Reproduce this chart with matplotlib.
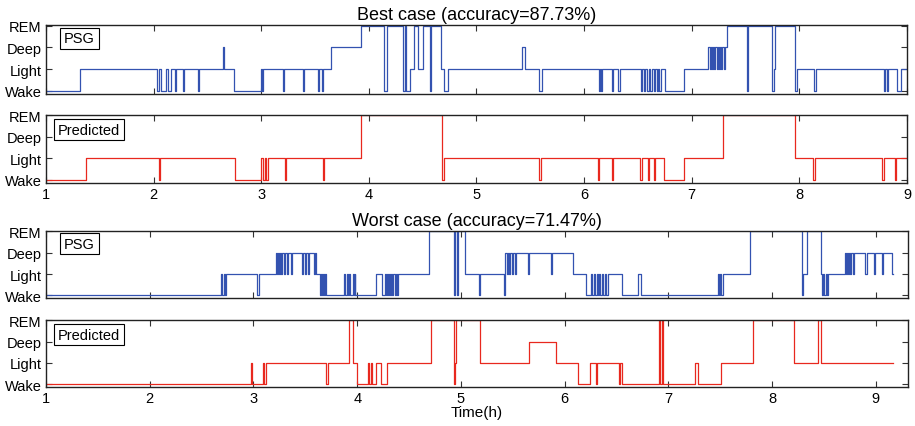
import numpy as np
import matplotlib
matplotlib.use("Agg")
import matplotlib.pyplot as plt

plt.rcParams['font.family'] = ['Liberation Sans', 'DejaVu Sans']

stage_labels = ['Wake', 'Light', 'Deep', 'REM']
W, L, D, R = 0, 1, 2, 3

# ---------------- Best case ----------------
best_title = "Best case (accuracy=87.73%)"
best_end = 9.0
best_psg_t = [1.00, 1.32, 2.035, 2.054, 2.067, 2.116, 2.138, 2.16, 2.20, 2.21, 2.27, 2.28, 2.41, 2.42,
              2.64, 2.653, 2.75, 2.995, 3.005, 3.015, 3.20, 3.21, 3.39, 3.40, 3.525, 3.535, 3.56, 3.57,
              3.65, 3.93, 4.145, 4.165, 4.318, 4.333, 4.349, 4.38, 4.423, 4.457, 4.504, 4.566, 4.579,
              4.672, 4.696, 4.737, 5.425, 5.455, 5.58, 5.605, 6.135, 6.15, 6.16, 6.17, 6.256, 6.27,
              6.318, 6.33, 6.525, 6.54, 6.555, 6.57, 6.585, 6.60, 6.615, 6.63, 6.645, 6.66, 6.675, 6.69,
              6.70, 6.715, 6.755, 6.925, 7.155, 7.165, 7.175, 7.185, 7.195, 7.21, 7.22, 7.23, 7.24,
              7.255, 7.265, 7.275, 7.285, 7.30, 7.31, 7.325, 7.51, 7.52, 7.75, 7.765, 7.775, 7.958,
              7.975, 8.138, 8.15, 8.785, 8.80, 8.81, 8.825, 8.905, 8.94]
best_psg_s = [W, L, W, L, W, L, W, L, W, L, W, L, W, L,
              D, L, W, L, W, L, W, L, W, L, W, L, W, L,
              D, R, W, R, W, R, W, L, R, L, R, W, R,
              L, W, L, D, L, W, L, W, L, W, L, W, L,
              W, L, W, L, W, L, W, L, W, L, W, L, W, L,
              W, L, W, L, D, L, D, L, D, L, D, L, D,
              L, D, L, D, L, D, R, W, R, W, L, R, W,
              L, W, L, W, L, W, L, W, L]

best_pred_t = [1.00, 1.37, 2.05, 2.06, 2.76, 2.995, 3.02, 3.035, 3.045, 3.06, 3.22, 3.23, 3.57, 3.58,
               3.93, 4.68, 4.70, 5.58, 5.595, 6.13, 6.14, 6.255, 6.265, 6.52, 6.535, 6.59, 6.60,
               6.65, 6.66, 6.74, 6.93, 7.29, 7.96, 8.13, 8.145, 8.77, 8.785, 8.885, 8.895]
best_pred_s = [W, L, W, L, W, L, W, L, W, L, W, L, W, L,
               R, W, L, W, L, W, L, W, L, W, L, W, L,
               W, L, W, L, R, L, W, L, W, L, W, L]

# ---------------- Worst case ----------------
worst_title = "Worst case (accuracy=71.47%)"
worst_end = 9.165
worst_psg_t = [1.00, 2.685, 2.70, 2.712, 2.725, 2.74, 3.03, 3.057,
               3.215, 3.225, 3.235, 3.245, 3.255, 3.265, 3.275, 3.29, 3.30, 3.325, 3.335, 3.36, 3.37,
               3.465, 3.475, 3.50, 3.51, 3.53, 3.54, 3.58, 3.59, 3.60,
               3.64, 3.65, 3.66, 3.67, 3.68, 3.69, 3.70,
               3.875, 3.885, 3.90, 3.91, 3.925, 3.935, 3.955, 3.965, 3.975, 3.98,
               4.185, 4.235, 4.27, 4.28, 4.29, 4.30, 4.31, 4.32, 4.33, 4.34, 4.35, 4.36, 4.37, 4.38, 4.39,
               4.69, 4.93, 4.945, 4.96, 4.975, 5.035, 5.175, 5.185, 5.42, 5.425, 5.44, 5.45, 5.465,
               5.475, 5.49, 5.50, 5.52, 5.53, 5.645, 5.655, 5.87, 5.88, 6.085,
               6.205, 6.25, 6.26, 6.28, 6.29, 6.31, 6.32, 6.335, 6.345, 6.36, 6.37, 6.39, 6.40, 6.415,
               6.555, 6.705, 6.735, 7.48, 7.49, 7.50, 7.51, 7.525, 7.79, 8.29, 8.30, 8.335, 8.475,
               8.485, 8.495, 8.505, 8.515, 8.525, 8.54, 8.705, 8.715, 8.725, 8.735, 8.745, 8.755,
               8.765, 8.78, 8.79, 8.90, 8.91, 8.98, 8.99, 9.06, 9.07, 9.16]
worst_psg_s = [W, L, W, L, W, L, W, L,
               D, L, D, L, D, L, D, L, D, L, D, L, D,
               L, D, L, D, L, D, L, D, L,
               W, L, W, L, W, L, W,
               L, W, L, W, L, W, L, W, L, W,
               L, W, L, W, L, W, L, W, L, W, L, W, L, W, L,
               R, W, R, W, R, L, W, L, W, D, L, D, L,
               D, L, D, L, D, L, D, L, D, L,
               W, L, W, L, W, L, W, L, W, L, W, L, W, L,
               W, L, W, L, W, L, W, L, R, W, L, R, L,
               W, L, W, L, W, L, D, L, D, L, D, L,
               D, L, D, L, D, L, D, L, D, L]

worst_pred_t = [1.00, 2.98, 2.99, 3.095, 3.105, 3.12, 3.70, 3.715, 3.925, 3.96, 4.00, 4.105, 4.115,
                4.13, 4.14, 4.18, 4.225, 4.285, 4.715, 4.93, 4.945, 4.955, 5.185, 5.655, 5.915,
                6.13, 6.245, 6.305, 6.315, 6.52, 6.53, 6.555, 6.91, 6.92, 6.935, 6.945, 7.26, 7.29,
                7.51, 7.82, 8.21, 8.445, 8.47]
worst_pred_s = [W, L, W, L, W, L, W, L, R, L, W, L, W,
                L, W, L, W, L, R, W, L, R, L, D, L,
                W, L, W, L, W, L, W, R, W, R, W, L, W,
                L, R, L, R, L]

blue = '#3352b0'
red = '#e8281e'
FW, FH = 915, 427


def add_ax(left, top, right, bottom):
    return fig.add_axes([left / FW, 1 - bottom / FH, (right - left) / FW, (bottom - top) / FH])


def draw(ax, t, s, end, color, xmax, label, show_x, box_xy):
    tt = list(t) + [end]
    ss = list(s) + [s[-1]]
    ax.plot(tt, ss, drawstyle='steps-post', color=color, lw=0.9)
    ax.set_xlim(1, xmax)
    ax.set_ylim(-0.12, 3.03)
    ax.set_yticks(range(4))
    ax.set_yticklabels(stage_labels)
    ax.set_xticks(range(1, 10))
    ax.tick_params(direction='in', top=True, right=True, length=4, width=0.8,
                   labelsize=10.5, pad=3, colors='#333333')
    ax.tick_params(axis='both', labelcolor='black')
    if not show_x:
        ax.set_xticklabels([])
    for sp in ax.spines.values():
        sp.set_linewidth(1.0)
        sp.set_color('#222222')
    ax.text(box_xy[0], box_xy[1], label, transform=ax.transAxes, ha='left', va='top', fontsize=10.5,
            bbox=dict(boxstyle='square,pad=0.25', fc='white', ec='black', lw=0.8))


fig = plt.figure(figsize=(FW / 100, FH / 100), dpi=100)

ax1 = add_ax(46, 26, 907, 94.5)
ax2 = add_ax(46, 115.5, 907, 183.5)
ax3 = add_ax(46, 231.5, 908, 299)
ax4 = add_ax(46, 320.5, 908, 388)

draw(ax1, best_psg_t, best_psg_s, best_end, blue, 9.0, 'PSG', False, (0.021, 0.91))
draw(ax2, best_pred_t, best_pred_s, best_end, red, 9.0, 'Predicted', True, (0.014, 0.88))
draw(ax3, worst_psg_t, worst_psg_s, worst_end, blue, 9.31, 'PSG', False, (0.021, 0.91))
draw(ax4, worst_pred_t, worst_pred_s, worst_end, red, 9.31, 'Predicted', True, (0.014, 0.88))

ax1.set_title(best_title, fontsize=13, pad=4)
ax3.set_title(worst_title, fontsize=13, pad=4)
ax4.set_xlabel('Time(h)', fontsize=11, labelpad=0)

fig.savefig('out.png', dpi=100)
